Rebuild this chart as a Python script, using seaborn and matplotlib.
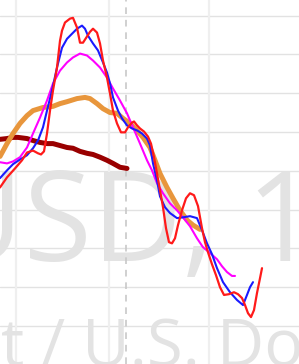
import matplotlib
matplotlib.use("Agg")
import matplotlib.pyplot as plt
import seaborn as sns
import pandas as pd
import numpy as np
from matplotlib.font_manager import FontProperties

# ---- data (x: time position, y: value) ----
red_x = [0, 7, 15, 22, 27, 33, 38, 41, 44, 47, 50, 53, 57, 60, 62, 65, 70, 73, 77, 80, 83, 87, 90, 93, 97, 100, 103, 107, 110, 113, 117, 121, 125, 128, 132, 134, 137, 140, 144, 148, 151, 154, 157, 160, 163, 166, 169, 172, 175, 178, 182, 186, 190, 194, 198, 202, 205, 208, 212, 216, 220, 224, 229, 234, 238, 242, 245, 248, 251, 254, 257, 260, 262]
red_y = [35.7, 38.3, 40.6, 42.7, 44.7, 45.2, 44.5, 44.2, 45.0, 49.6, 55.5, 60.7, 66.6, 73.5, 76.1, 78.2, 79.2, 79.4, 76.9, 73.0, 73.0, 74.6, 75.8, 76.6, 75.6, 72.8, 68.4, 64.0, 59.9, 55.5, 52.2, 49.9, 49.9, 51.2, 52.4, 52.7, 51.7, 50.9, 50.1, 48.8, 47.0, 43.5, 39.3, 35.0, 30.6, 25.2, 21.6, 21.3, 22.6, 26.0, 29.8, 32.9, 34.2, 33.7, 30.9, 25.2, 21.6, 19.0, 15.9, 13.1, 10.0, 8.0, 8.2, 8.7, 8.2, 7.2, 5.4, 3.3, 2.3, 4.1, 8.5, 12.3, 14.9]

blue_x = [0, 7, 13, 20, 27, 33, 38, 43, 47, 52, 57, 62, 67, 72, 77, 82, 85, 88, 93, 98, 103, 107, 110, 113, 118, 122, 127, 132, 137, 142, 147, 150, 153, 157, 160, 165, 170, 177, 183, 190, 197, 202, 207, 212, 217, 223, 230, 237, 243, 247, 250, 253]
blue_y = [38.1, 40.1, 41.7, 42.9, 44.0, 45.8, 47.8, 51.2, 55.5, 60.7, 66.6, 71.7, 74.0, 75.3, 76.6, 77.4, 76.6, 74.8, 72.8, 71.0, 67.9, 65.3, 62.5, 58.9, 55.5, 53.5, 51.7, 50.9, 50.4, 49.6, 48.3, 46.5, 41.9, 37.5, 33.4, 30.6, 29.1, 27.8, 28.0, 28.3, 27.8, 24.7, 21.3, 18.5, 14.9, 11.3, 8.7, 6.7, 5.4, 8.0, 10.0, 11.3]

magenta_x = [0, 7, 13, 20, 27, 33, 40, 47, 53, 60, 67, 73, 80, 87, 93, 100, 107, 113, 120, 127, 133, 140, 147, 152, 157, 163, 170, 177, 183, 190, 197, 203, 210, 217, 222, 227, 232, 235]
magenta_y = [42.2, 41.9, 42.4, 43.5, 46.0, 49.6, 53.7, 58.1, 62.5, 65.8, 67.9, 69.2, 70.2, 69.7, 68.4, 66.6, 64.0, 61.2, 58.1, 54.8, 51.2, 47.0, 42.7, 40.1, 36.8, 34.2, 31.6, 29.8, 28.0, 25.7, 22.6, 20.3, 18.8, 17.2, 15.4, 13.9, 12.9, 12.9]

orange_x = [0, 7, 13, 20, 27, 33, 43, 53, 60, 67, 77, 85, 90, 97, 103, 110, 117, 123, 130, 137, 143, 150, 155, 160, 167, 173, 180, 187, 193, 200]
orange_y = [43.7, 47.0, 49.6, 52.2, 54.2, 55.5, 56.3, 56.6, 57.3, 57.8, 58.6, 58.9, 58.6, 57.3, 56.0, 55.0, 54.8, 53.5, 52.2, 50.4, 48.6, 46.0, 42.7, 39.3, 35.7, 32.9, 29.8, 27.3, 26.0, 24.9]

darkred_x = [0, 7, 13, 18, 27, 33, 40, 47, 53, 60, 67, 73, 80, 87, 93, 100, 107, 113, 120, 127]
darkred_y = [48.1, 48.3, 48.6, 48.6, 48.3, 47.8, 47.3, 47.0, 47.0, 46.5, 46.0, 45.8, 45.0, 44.5, 44.2, 43.5, 42.7, 41.9, 40.9, 40.6]

y_ticks = [0, 10, 20, 30, 40, 50, 60, 70, 80]
x_ticks = [15.5, 109, 208.7]
marker_x = 125.5
bg_line1 = "USD, 1"
bg_line2 = "t / U.S. Dol"

sns.set_theme(style="white")
plt.rcParams['font.family'] = ['Open Sans', 'DejaVu Sans']

W, H = 299, 364
BG_SIZE = 89.5
BG_SIZE2 = 47
BG_FAMILY = ['Open Sans', 'DejaVu Sans']

# where the glyphs of the big watermark line sit in the reference (pixel ink spans)
line1_spans = {0: (None, 17), 1: (38, 83), 2: (107, 157), 3: (167, 187), 5: (260, 293)}


def ink_anchor(s, spans, size, fallback):
    """Left ink position that best places the glyphs of s on the given spans."""
    try:
        from matplotlib.textpath import text_to_path
        font = text_to_path._get_font(FontProperties(family=BG_FAMILY))
        font.set_size(text_to_path.FONT_SCALE, text_to_path.DPI)
        info, gmap, _ = text_to_path.get_glyphs_with_font(font, s, return_new_glyphs_only=False)
        f = size * 100 / 72 / 100
        ext = []
        for gid, x, _y, _s in info:
            v = np.asarray(gmap[gid][0])
            ext.append(None if len(v) == 0 else (x + v[:, 0].min(), x + v[:, 0].max()))
        pred, targ = [], []
        for i, (a, b) in spans.items():
            if a is not None:
                pred.append(ext[i][0] * f); targ.append(a)
            pred.append(ext[i][1] * f); targ.append(b)
        dx = float(np.mean(np.array(targ) - np.array(pred)))
        return dx + ext[0][0] * f
    except Exception:
        return fallback


fig = plt.figure(figsize=(W / 100, H / 100), dpi=100)
ax = fig.add_axes([0, 0, 1, 1])
ax.set_xlim(0, 299)
ax.set_ylim(-9.79, 84.0)

for yv in y_ticks:
    ax.axhline(yv, color="#e2e2e2", lw=1.0, zorder=0)
for xv in x_ticks:
    ax.axvline(xv, color="#efefef", lw=1.6, zorder=0)
ax.axvline(marker_x, color="#c8c8c8", lw=1.2, ls=(0, (4, 3.5)), zorder=0.5)

bg_col = "#e3e3e3"
x1 = ink_anchor(bg_line1, line1_spans, BG_SIZE, -67)
ax.text(x1 / W, 1 - 261 / H, bg_line1, transform=ax.transAxes, fontsize=BG_SIZE,
        color=bg_col, ha="left", va="baseline", zorder=0.2, family=BG_FAMILY)
ax.text(1 / W, 1 - 366 / H, bg_line2, transform=ax.transAxes, fontsize=BG_SIZE2,
        color=bg_col, ha="left", va="baseline", zorder=0.2, clip_on=False,
        family=BG_FAMILY)

series = [
    (darkred_x, darkred_y, "#990000", 3.6),
    (orange_x, orange_y, "#e8963c", 3.6),
    (magenta_x, magenta_y, "#ff00ff", 1.5),
    (blue_x, blue_y, "#1a1aff", 1.5),
    (red_x, red_y, "#ff1a1a", 1.6),
]
for xs, ys, col, lw in series:
    df = pd.DataFrame({"x": xs, "y": ys})
    sns.lineplot(data=df, x="x", y="y", ax=ax, color=col, lw=lw, sort=False,
                 estimator=None, solid_capstyle="round", solid_joinstyle="round")

ax.set_axis_off()
fig.savefig("out.png", dpi=100)
